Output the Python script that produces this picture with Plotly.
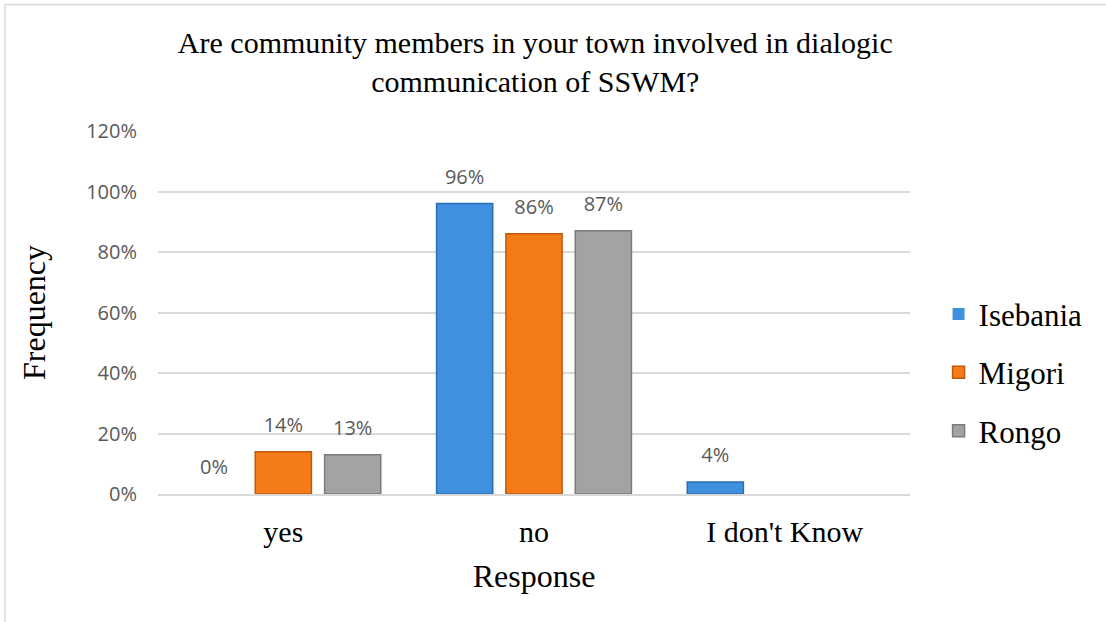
import plotly.graph_objects as go

categories = ["yes", "no", "I don't Know"]
isebania = [0.00, 0.96, 0.04]
migori = [0.14, 0.86, 0.00]
rongo = [0.13, 0.87, 0.00]

series = [
    ("Isebania", isebania, "#3F91E0", "#2C6FB3"),
    ("Migori", migori, "#F47B17", "#C0580E"),
    ("Rongo", rongo, "#A3A3A3", "#7C7C7C"),
]
# which points carry a value label
show_label = {
    "Isebania": [True, True, True],
    "Migori": [True, True, False],
    "Rongo": [True, True, False],
}

serif = "Liberation Serif, Times New Roman, serif"
sans = "Open Sans, Liberation Sans, sans-serif"
label_color = "#595959"

fig = go.Figure()
for name, vals, color, edge in series:
    fig.add_trace(go.Bar(
        name=name,
        x=categories,
        y=vals,
        marker=dict(
            color=color,
            line=dict(color=edge, width=[0 if v == 0 else 1.5 for v in vals]),
        ),
        legendgroup=name,
        hoverinfo="skip",
    ))

# value labels, grouped the same way as the bars
for name, vals, color, edge in series:
    fig.add_trace(go.Scatter(
        x=categories,
        y=vals,
        mode="markers+text",
        marker=dict(size=22, opacity=0),
        text=[f"{round(v * 100)}%" if s else "" for v, s in zip(vals, show_label[name])],
        textposition="top center",
        textfont=dict(family=sans, size=20, color=label_color),
        cliponaxis=False,
        showlegend=False,
        hoverinfo="skip",
    ))

fig.update_layout(
    width=1106,
    height=622,
    paper_bgcolor="white",
    plot_bgcolor="white",
    margin=dict(l=158, r=196, t=131, b=128),
    barmode="group",
    bargap=0.17,
    bargroupgap=0.19,
    scattermode="group",
    scattergap=0.17,
    title=dict(
        text="Are community members in your town involved in dialogic<br>communication of SSWM?",
        x=0.484, xanchor="center",
        y=0.915, yanchor="top",
        font=dict(family=serif, size=30, color="#000000"),
    ),
    legend=dict(
        x=1.038, xanchor="left",
        y=0.335, yanchor="middle",
        font=dict(family=serif, size=31, color="#000000"),
        tracegroupgap=15,
        itemwidth=30,
        bgcolor="rgba(0,0,0,0)",
    ),
    showlegend=True,
    shapes=[dict(
        type="rect", xref="paper", yref="paper",
        x0=(5 - 158) / 752, x1=(1120 - 158) / 752,
        y0=(494 - 640) / 363, y1=(494 - 4.5) / 363,
        line=dict(color="#D9D9D9", width=1.5),
        fillcolor="rgba(0,0,0,0)",
        layer="below",
    )],
)

fig.update_xaxes(
    showgrid=False,
    showline=True,
    linecolor="#D9D9D9",
    linewidth=1.5,
    ticks="",
    ticklabelstandoff=10,
    tickfont=dict(family=serif, size=30, color="#000000"),
    title=dict(text="Response", font=dict(family=serif, size=32, color="#000000"), standoff=18),
)
fig.update_yaxes(
    range=[0, 1.2],
    dtick=0.2,
    tickformat=".0%",
    showgrid=True,
    gridcolor="#D9D9D9",
    gridwidth=1.5,
    zeroline=False,
    ticks="",
    ticklabelstandoff=20,
    tickfont=dict(family=sans, size=20, color=label_color),
    title=dict(text="Frequency", font=dict(family=serif, size=32, color="#000000"), standoff=30),
)

fig.write_html("out.html")
